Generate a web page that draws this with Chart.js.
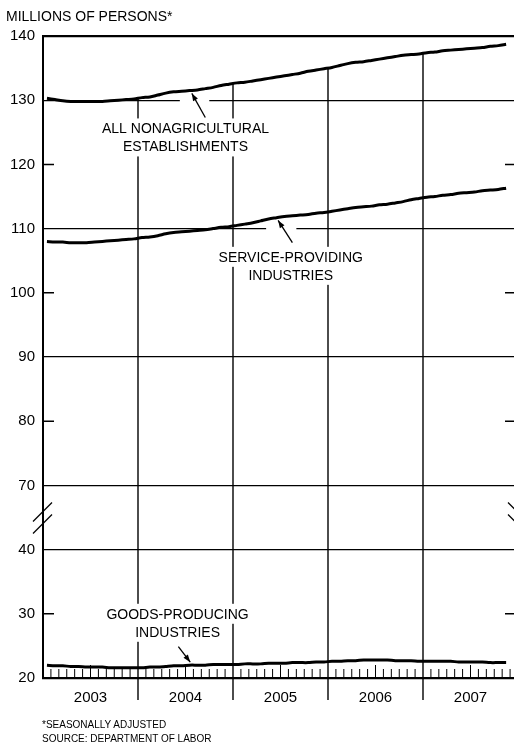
<!DOCTYPE html>
<html>
<head>
<meta charset="utf-8">
<script src="https://cdn.jsdelivr.net/npm/chart.js@4.4.1/dist/chart.umd.min.js"></script>
<style>
  body { margin: 0; background: #fff; }
  #wrap { position: relative; width: 514px; height: 744px; overflow: hidden; }
  #box { position: absolute; left: 0; top: 0; width: 520px; height: 744px; }
  .txt { position: absolute; font-family: "Liberation Sans", Arial, sans-serif; color: #000; white-space: nowrap; }
  #title { left: 6px; top: 8px; font-size: 14px; }
  #note1 { left: 42px; top: 719px; font-size: 10px; }
  #note2 { left: 42px; top: 733px; font-size: 10px; }
</style>
</head>
<body>
<div id="wrap">
  <div id="box"><canvas id="jobs-chart"></canvas></div>
  <div class="txt" id="title">MILLIONS OF PERSONS*</div>
  <div class="txt" id="note1">*SEASONALLY ADJUSTED</div>
  <div class="txt" id="note2">SOURCE: DEPARTMENT OF LABOR</div>
</div>
<script>
// monthly values, Jan 2003 .. Nov 2007 (millions, seasonally adjusted)
const years = ['2003', '2004', '2005', '2006', '2007'];

const nonAgri = [
    130.3, 130.1, 129.9, 129.8, 129.8, 129.8, 129.8, 129.8, 129.9, 130.0, 130.1, 130.2,
    130.4, 130.5, 130.8, 131.1, 131.3, 131.4, 131.5, 131.6, 131.8, 132.0, 132.3, 132.5,
    132.7, 132.8, 133.0, 133.2, 133.4, 133.6, 133.8, 134.0, 134.2, 134.5, 134.7, 134.9,
    135.1, 135.4, 135.7, 135.9, 136.0, 136.2, 136.4, 136.6, 136.8, 137.0, 137.1, 137.2,
    137.4, 137.5, 137.7, 137.8, 137.9, 138.0, 138.1, 138.2, 138.4, 138.5, 138.7
];
const services = [
    108.0, 107.9, 107.9, 107.8, 107.8, 107.8, 107.9, 108.0, 108.1, 108.2, 108.3, 108.4,
    108.6, 108.7, 108.9, 109.2, 109.4, 109.5, 109.6, 109.7, 109.8, 110.0, 110.2, 110.3,
    110.5, 110.7, 110.9, 111.2, 111.5, 111.7, 111.9, 112.0, 112.1, 112.2, 112.4, 112.5,
    112.7, 112.9, 113.1, 113.3, 113.4, 113.5, 113.7, 113.8, 114.0, 114.2, 114.5, 114.7,
    114.9, 115.0, 115.2, 115.3, 115.5, 115.6, 115.7, 115.9, 116.0, 116.1, 116.3
];
const goods = [
    22.0, 21.9, 21.9, 21.8, 21.8, 21.7, 21.7, 21.7, 21.6, 21.6, 21.6, 21.6,
    21.6, 21.7, 21.7, 21.8, 21.9, 21.9, 22.0, 22.0, 22.0, 22.1, 22.1, 22.1,
    22.1, 22.2, 22.2, 22.2, 22.3, 22.3, 22.3, 22.4, 22.4, 22.4, 22.5, 22.5,
    22.6, 22.6, 22.7, 22.7, 22.8, 22.8, 22.8, 22.8, 22.7, 22.7, 22.7, 22.6,
    22.6, 22.6, 22.6, 22.6, 22.5, 22.5, 22.5, 22.5, 22.4, 22.4, 22.4
];

// the axis is broken between 40 and 70: lower panel is shifted up by 20
const BREAK_SHIFT = 20;
const fullLines = [140, 130, 110, 90, 70, 60, 40];
const shortTicks = [120, 100, 80, 50];

function toPoints(arr, shift) {
    return arr.map((v, i) => ({ x: i + 0.5, y: v + shift }));
}

const FONT = '"Liberation Sans", Arial, sans-serif';
const INK = '#000';

// labels with arrows, in data units (month, value on shifted axis)
const callouts = [
    { lines: ['ALL NONAGRICULTURAL', 'ESTABLISHMENTS'], x: 18.0, y: 124.2, series: nonAgri, shift: 0, tipX: 18.8, tail: [20.5, 127.3], gap: 130 },
    { lines: ['SERVICE-PROVIDING', 'INDUSTRIES'], x: 31.3, y: 104.2, series: services, shift: 0, tipX: 29.7, tail: [31.5, 107.8], gap: 110 },
    { lines: ['GOODS-PRODUCING', 'INDUSTRIES'], x: 17.0, y: 48.6, series: goods, shift: BREAK_SHIFT, tipX: 18.6, tail: [17.1, 44.9] }
];

function valueAt(series, m) {
    // m in months, points sit at i + 0.5
    const p = m - 0.5;
    const i = Math.max(0, Math.min(series.length - 2, Math.floor(p)));
    const t = p - i;
    return series[i] * (1 - t) + series[i + 1] * t;
}

const decor = {
    id: 'decor',
    beforeDatasetsDraw(chart) {
        const { ctx, chartArea, scales } = chart;
        const xs = scales.x, ys = scales.y;
        ctx.save();
        ctx.strokeStyle = INK;

        // small ticks on both sides
        ctx.lineWidth = 1.5;
        shortTicks.forEach(v => {
            const y = ys.getPixelForValue(v);
            ctx.beginPath();
            ctx.moveTo(chartArea.left, y); ctx.lineTo(chartArea.left + 11, y);
            ctx.moveTo(chartArea.right - 13, y); ctx.lineTo(chartArea.right, y);
            ctx.stroke();
        });

        // year dividers start at the top line and drop below the base
        ctx.lineWidth = 1.4;
        for (let m = 12; m < 60; m += 12) {
            const x = xs.getPixelForValue(m);
            const yTop = ys.getPixelForValue(valueAt(nonAgri, m));
            ctx.beginPath();
            ctx.moveTo(x, yTop);
            ctx.lineTo(x, chartArea.bottom + 22);
            ctx.stroke();
        }

        // monthly ticks along the base
        ctx.lineWidth = 1;
        for (let m = 1; m < 60; m++) {
            if (m % 12 === 0) continue;
            const x = xs.getPixelForValue(m);
            const h = (m % 12 === 6) ? 13 : 9;
            ctx.beginPath();
            ctx.moveTo(x, chartArea.bottom);
            ctx.lineTo(x, chartArea.bottom - h);
            ctx.stroke();
        }

        // gaps in the grid where the arrows cross
        ctx.fillStyle = '#fff';
        callouts.filter(c => c.gap).forEach(c => {
            const gy = ys.getPixelForValue(c.gap);
            const x0 = xs.getPixelForValue(c.tipX) - 12;
            const x1 = xs.getPixelForValue(c.tail[0]) + 4;
            ctx.fillRect(x0, gy - 2, x1 - x0, 4);
        });
        ctx.restore();
    },
    afterDatasetsDraw(chart) {
        const { ctx, chartArea, scales } = chart;
        const xs = scales.x, ys = scales.y;
        ctx.save();

        // axis break marks
        const yb = ys.getPixelForValue(65);
        ctx.strokeStyle = INK;
        ctx.lineWidth = 1.3;
        [-6, 6].forEach(d => {
            ctx.beginPath();
            ctx.moveTo(chartArea.left - 10, yb + d + 10);
            ctx.lineTo(chartArea.left + 9, yb + d - 9);
            ctx.stroke();
            ctx.beginPath();
            ctx.moveTo(chartArea.right - 10, yb + d - 9);
            ctx.lineTo(chartArea.right, yb + d + 1);
            ctx.stroke();
        });

        // callouts
        ctx.font = '14px ' + FONT;
        ctx.textAlign = 'center';
        ctx.textBaseline = 'middle';
        callouts.forEach(c => {
            const cx = xs.getPixelForValue(c.x);
            const cy = ys.getPixelForValue(c.y);
            const lh = 18;
            c.lines.forEach((l, k) => {
                const lw = ctx.measureText(l).width;
                ctx.fillStyle = '#fff';
                ctx.fillRect(cx - lw / 2 - 3, cy - lh + k * lh - 1, lw + 6, lh + 2);
                ctx.fillStyle = INK;
                ctx.fillText(l, cx, cy - lh / 2 + k * lh + 1);
            });

            // arrow, tip stops at the edge of the line it points to
            const sx = xs.getPixelForValue(c.tail[0]);
            const sy = ys.getPixelForValue(c.tail[1]);
            const tx = xs.getPixelForValue(c.tipX);
            const lineY = ys.getPixelForValue(valueAt(c.series, c.tipX) + c.shift);
            const ty = sy > lineY ? lineY + 3 : lineY - 3;
            const ang = Math.atan2(ty - sy, tx - sx);
            ctx.strokeStyle = INK;
            ctx.lineWidth = 1.3;
            ctx.beginPath();
            ctx.moveTo(sx, sy);
            ctx.lineTo(tx, ty);
            ctx.stroke();
            ctx.beginPath();
            ctx.moveTo(tx, ty);
            ctx.lineTo(tx - 8 * Math.cos(ang - 0.35), ty - 8 * Math.sin(ang - 0.35));
            ctx.lineTo(tx - 8 * Math.cos(ang + 0.35), ty - 8 * Math.sin(ang + 0.35));
            ctx.closePath();
            ctx.fillStyle = INK;
            ctx.fill();
        });
        ctx.restore();
    }
};

function lineSet(label, arr, shift) {
    return {
        label: label,
        data: toPoints(arr, shift),
        borderColor: INK,
        borderWidth: 3,
        pointRadius: 0,
        tension: 0.3,
        fill: false
    };
}

const ctx = document.getElementById('jobs-chart').getContext('2d');
const jobsChart = new Chart(ctx, {
    type: 'line',
    data: {
        datasets: [
            lineSet('All nonagricultural establishments', nonAgri, 0),
            lineSet('Service-providing industries', services, 0),
            lineSet('Goods-producing industries', goods, BREAK_SHIFT)
        ]
    },
    options: {
        responsive: true,
        maintainAspectRatio: false,
        animation: false,
        layout: { padding: { top: 36, right: 2, left: 0, bottom: 0 } },
        plugins: {
            legend: { display: false },
            tooltip: { enabled: false }
        },
        scales: {
            x: {
                type: 'linear',
                min: 0,
                max: 60,
                afterBuildTicks: (s) => { s.ticks = years.map((y, i) => ({ value: i * 12 + 6 })); },
                afterFit: (s) => { s.height = 66; },
                ticks: {
                    autoSkip: false,
                    maxRotation: 0,
                    padding: 3,
                    color: INK,
                    font: { family: FONT, size: 15 },
                    callback: (v) => years[(v - 6) / 12]
                },
                grid: { display: false },
                border: { display: false }
            },
            y: {
                min: 40,
                max: 140,
                afterFit: (s) => { s.width = 43; },
                ticks: {
                    stepSize: 10,
                    padding: 8,
                    color: INK,
                    font: { family: FONT, size: 15 },
                    callback: (v) => v >= 70 ? String(v) : (v <= 60 ? String(v - BREAK_SHIFT) : '')
                },
                grid: {
                    drawTicks: false,
                    color: (c) => fullLines.includes(c.tick.value) ? INK : 'rgba(0,0,0,0)',
                    lineWidth: (c) => (c.tick.value === 140 || c.tick.value === 40) ? 2.2 : 1.3
                },
                border: { display: true, color: INK, width: 2 }
            }
        }
    },
    plugins: [decor]
});
</script>
</body>
</html>
